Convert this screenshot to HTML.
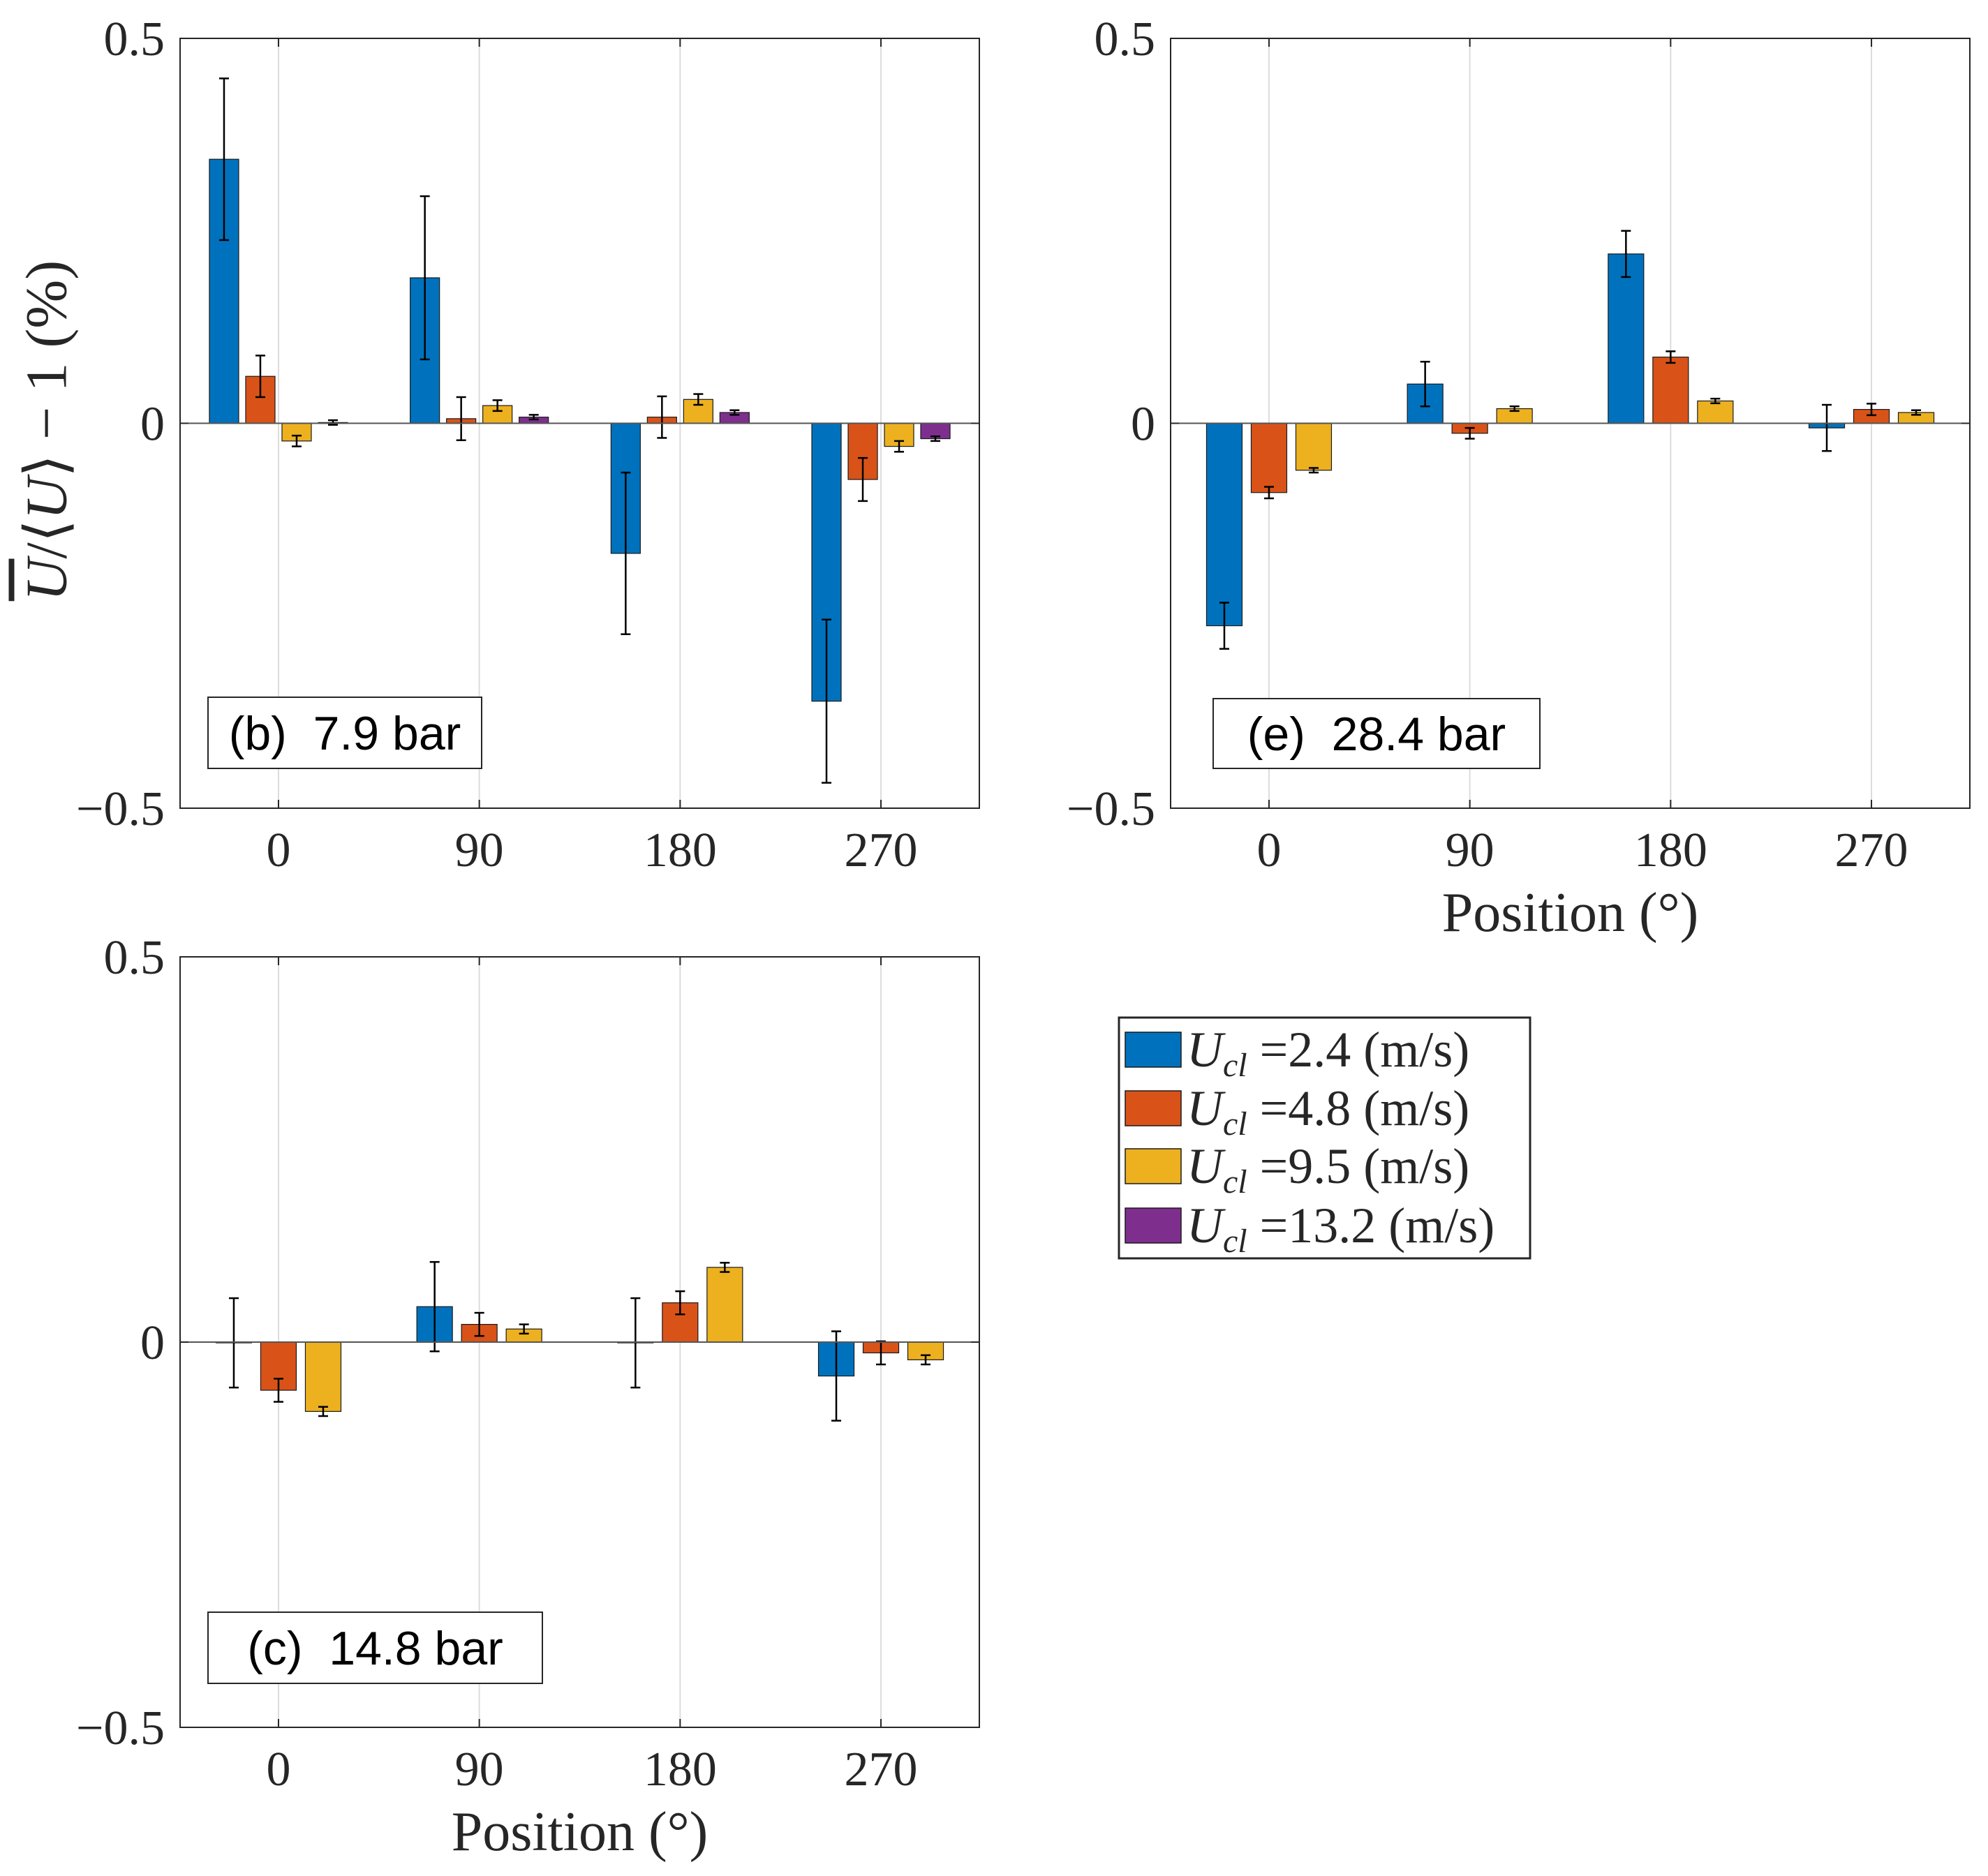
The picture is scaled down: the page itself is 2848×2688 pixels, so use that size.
<!DOCTYPE html>
<html><head><meta charset="utf-8"><style>
body{margin:0;background:#fff;}
#wrap{position:relative;width:2848px;height:2688px;overflow:hidden;background:#fff;}
svg text{font-family:"Liberation Serif",serif;fill:#262626;}
.ylab{position:absolute;left:66px;top:617px;transform:translate(-50%,-50%) rotate(-90deg);font-family:"Liberation Serif",serif;font-size:84px;color:#262626;white-space:nowrap;}
</style></head><body>
<div id="wrap">
<svg id="fig" width="2848" height="2688" xmlns="http://www.w3.org/2000/svg"></svg>
<div class="ylab"><span style="text-decoration:overline;font-style:italic">U</span>/⟨<i>U</i>⟩ − 1 (%)</div>
</div>
<script>
const categories = ["0","90","180","270"];
const yTicks = [0.5, 0, -0.5];
const yTickLabels = ["0.5","0","\u22120.5"];
const seriesNames = ["2.4","4.8","9.5","13.2"];
const colors = ["#0072BD","#D95319","#EDB120","#7E2F8E"];
// panel b (7.9 bar)
const bVals = [[0.343,0.189,-0.169,-0.361],[0.061,0.006,0.008,-0.073],[-0.023,0.023,0.031,-0.030],[0.001,0.008,0.014,-0.020]];
const bErr = [[0.105,0.106,0.105,0.106],[0.027,0.028,0.027,0.028],[0.007,0.007,0.007,0.007],[0.003,0.003,0.003,0.003]];
// panel e (28.4 bar)
const eVals = [[-0.263,0.051,0.220,-0.006],[-0.090,-0.013,0.086,0.018],[-0.061,0.019,0.029,0.014]];
const eErr = [[0.030,0.029,0.030,0.030],[0.0075,0.007,0.0075,0.0075],[0.003,0.003,0.003,0.003]];
// panel c (14.8 bar)
const cVals = [[-0.001,0.046,-0.001,-0.044],[-0.0625,0.023,0.051,-0.014],[-0.090,0.017,0.097,-0.023]];
const cErr = [[0.058,0.058,0.058,0.058],[0.015,0.015,0.015,0.015],[0.006,0.006,0.006,0.006]];

const svg = document.getElementById('fig');
const NS = "http://www.w3.org/2000/svg";
function mk(tag, attrs, parent){const e=document.createElementNS(NS,tag);for(const k in attrs)e.setAttribute(k,attrs[k]);(parent||svg).appendChild(e);return e;}

function panel(name, L, T, R, B, vals, errs, label, box, showX){
  const g = mk('g',{});
  
  
  const xs = i => L + (R-L)*((i+1) - 0.51)/3.98;
  const ys = v => (T+B)/2 - v*(B-T);
  categories.forEach((c,i)=>{
    const gl = mk('line',{x1:xs(i),x2:xs(i),y1:T,y2:B,stroke:'#dcdcdc','stroke-width':2},g);
    
    
  });
  const n = vals.length;
  const bw = n===4 ? 42 : 51;
  const step = n===4 ? 52 : 64;
  vals.forEach((ser,s)=>{
    ser.forEach((v,i)=>{
      const cx = xs(i) + (s-(n-1)/2)*step;
      const y0 = ys(0), y1 = ys(v);
      const r = mk('rect',{x:cx-bw/2,y:Math.min(y0,y1),width:bw,height:Math.max(Math.abs(y1-y0),0.5),fill:colors[s],stroke:'#1a1a1a','stroke-width':1.2},g);
      
      
      const e = errs[s][i];
      const ya = ys(v+e), yb = ys(v-e);
      const eg = mk('g',{stroke:'#000','stroke-width':2.5},g);
      
      
      mk('line',{x1:cx,x2:cx,y1:ya,y2:yb},eg);
      mk('line',{x1:cx-7,x2:cx+7,y1:ya,y2:ya},eg);
      mk('line',{x1:cx-7,x2:cx+7,y1:yb,y2:yb},eg);
    });
  });
  const bl = mk('line',{x1:L,x2:R,y1:ys(0),y2:ys(0),stroke:'#555','stroke-width':2},g);
  
  
  const ax = mk('rect',{x:L,y:T,width:R-L,height:B-T,fill:'none',stroke:'#262626','stroke-width':2},g);
  
  
  categories.forEach((c,i)=>{
    mk('line',{x1:xs(i),x2:xs(i),y1:B,y2:B-12,stroke:'#262626','stroke-width':2},g);
    mk('line',{x1:xs(i),x2:xs(i),y1:T,y2:T+12,stroke:'#262626','stroke-width':2},g);
    const t = mk('text',{x:xs(i),y:B+83,'text-anchor':'middle','font-size':70},g);
    t.textContent = c;
    
    
  });
  yTicks.forEach((v,k)=>{
    mk('line',{x1:L,x2:L+12,y1:ys(v),y2:ys(v),stroke:'#262626','stroke-width':2},g);
    mk('line',{x1:R,x2:R-12,y1:ys(v),y2:ys(v),stroke:'#262626','stroke-width':2},g);
    const t = mk('text',{x:L-22,y:ys(v)+24,'text-anchor':'end','font-size':70},g);
    t.textContent = yTickLabels[k];
    
    
  });
  if(showX){
    const t = mk('text',{x:(L+R)/2,y:B+176,'text-anchor':'middle','font-size':80},g);
    t.textContent = 'Position (°)';
    
    
  }
  const bx = mk('rect',{x:box[0],y:box[1],width:box[2]-box[0],height:box[3]-box[1],fill:'#fff',stroke:'#262626','stroke-width':2},g);
  
  
  const lt = mk('text',{x:(box[0]+box[2])/2,y:(box[1]+box[3])/2+24,'text-anchor':'middle','font-size':68,style:'font-family:"Liberation Sans",sans-serif;fill:#000;white-space:pre'},g);
  lt.textContent = label;
  
  
}
panel('panel-b',258,55,1403,1158,bVals,bErr,'(b)\u00a0\u00a07.9 bar',[298,999,690,1101],false);
panel('panel-e',1677,55,2822,1158,eVals,eErr,'(e)\u00a0\u00a028.4 bar',[1738,1001,2206,1101],true);
panel('panel-c',258,1371,1403,2475,cVals,cErr,'(c)\u00a0\u00a014.8 bar',[298,2310,777,2412],true);

const lg = mk('g',{});


mk('rect',{x:1603,y:1458,width:589,height:345,fill:'#fff',stroke:'#262626','stroke-width':3},lg);
const ly = [1504,1588,1671,1756];
seriesNames.forEach((s,i)=>{
  const e = mk('g',{},lg);
  
  
  mk('rect',{x:1612,y:ly[i]-25,width:80,height:50,fill:colors[i],stroke:'#1a1a1a','stroke-width':1.5},e);
  const t = mk('text',{x:1700,y:ly[i]+24,'font-size':72},e);
  t.innerHTML = '<tspan font-style="italic">U</tspan><tspan font-style="italic" font-size="48" dy="14">cl</tspan><tspan dy="-14"> =' + s + ' (m/s)</tspan>';
});
</script>
</body></html>
